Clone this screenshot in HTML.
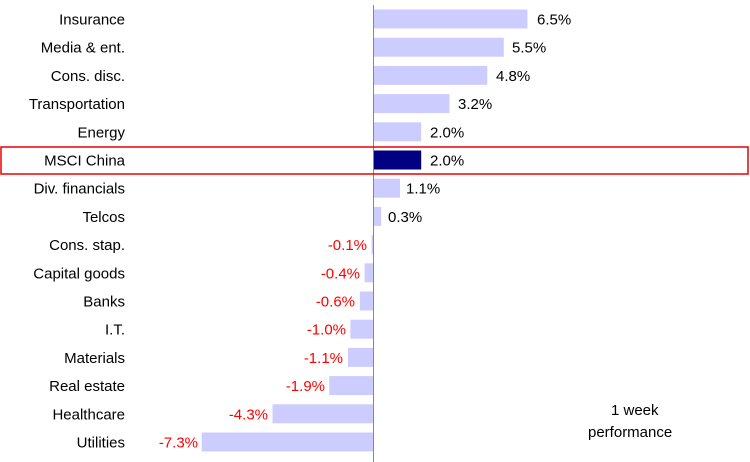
<!DOCTYPE html>
<html><head><style>
body{margin:0;background:#fff;}
svg{display:block;font-family:"Liberation Sans",Arial,sans-serif;font-size:15px;}
</style></head><body>
<svg width="750" height="462" xmlns="http://www.w3.org/2000/svg">
<g fill="#ccccff">
<rect x="374" y="9.5" width="153.4" height="19"/>
<rect x="374" y="37.7" width="129.8" height="19"/>
<rect x="374" y="65.9" width="113.3" height="19"/>
<rect x="374" y="94.1" width="75.5" height="19"/>
<rect x="374" y="122.3" width="47.2" height="19"/>
<rect x="374" y="150.5" width="47.2" height="19" fill="#000080"/>
<rect x="374" y="178.7" width="26" height="19"/>
<rect x="374" y="206.9" width="7.1" height="19"/>
<rect x="371.6" y="235.1" width="2.4" height="19"/>
<rect x="364.6" y="263.3" width="9.4" height="19"/>
<rect x="359.8" y="291.5" width="14.2" height="19"/>
<rect x="350.4" y="319.7" width="23.6" height="19"/>
<rect x="348" y="347.9" width="26" height="19"/>
<rect x="329.2" y="376.1" width="44.8" height="19"/>
<rect x="272.5" y="404.3" width="101.5" height="19"/>
<rect x="201.7" y="432.5" width="172.3" height="19"/>
</g>
<line x1="373.5" y1="5" x2="373.5" y2="462" stroke="#888" stroke-width="1"/>
<rect x="1" y="147" width="747" height="27" fill="none" stroke="#e00" stroke-width="1.5"/>
<g text-anchor="end" fill="#000">
<text x="125" y="24.5">Insurance</text>
<text x="125" y="52.7">Media &amp; ent.</text>
<text x="125" y="80.9">Cons. disc.</text>
<text x="125" y="109.1">Transportation</text>
<text x="125" y="137.3">Energy</text>
<text x="125" y="165.5">MSCI China</text>
<text x="125" y="193.7">Div. financials</text>
<text x="125" y="221.9">Telcos</text>
<text x="125" y="250.1">Cons. stap.</text>
<text x="125" y="278.3">Capital goods</text>
<text x="125" y="306.5">Banks</text>
<text x="125" y="334.7">I.T.</text>
<text x="125" y="362.9">Materials</text>
<text x="125" y="391.1">Real estate</text>
<text x="125" y="419.3">Healthcare</text>
<text x="125" y="447.5">Utilities</text>
</g>
<g fill="#000">
<text x="537" y="24.5">6.5%</text>
<text x="512" y="52.7">5.5%</text>
<text x="496" y="80.9">4.8%</text>
<text x="458" y="109.1">3.2%</text>
<text x="430" y="137.3">2.0%</text>
<text x="430" y="165.5">2.0%</text>
<text x="406" y="193.7">1.1%</text>
<text x="388" y="221.9">0.3%</text>
</g>
<g fill="#f00" text-anchor="end">
<text x="367" y="250.1">-0.1%</text>
<text x="360" y="278.3">-0.4%</text>
<text x="355" y="306.5">-0.6%</text>
<text x="346" y="334.7">-1.0%</text>
<text x="343" y="362.9">-1.1%</text>
<text x="325" y="391.1">-1.9%</text>
<text x="268" y="419.3">-4.3%</text>
<text x="198" y="447.5">-7.3%</text>
</g>
<text x="611" y="415" fill="#000">1 week</text>
<text x="588" y="437" fill="#000">performance</text>
</svg>
</body></html>
